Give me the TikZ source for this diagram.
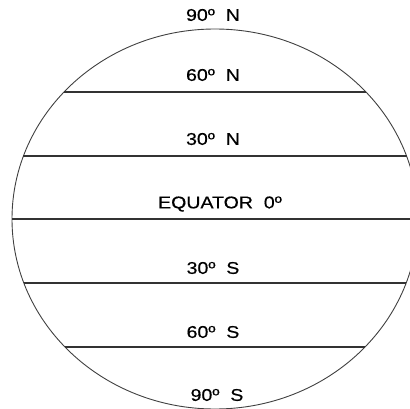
\documentclass[tikz,border=0pt]{standalone}
\usepackage{fontspec}
\setmainfont{Liberation Sans}[FakeStretch=1.15, FakeBold=0.4]
\begin{document}
\begin{tikzpicture}[x=1pt, y=-1pt, lat/.style={font=\fontsize{17}{19}\selectfont, inner sep=0pt}]
\useasboundingbox (0,0) rectangle (410,409);
\clip (0,0) rectangle (410,409);
\draw[line width=0.9pt, black!75] (215,219) ellipse [x radius=203, y radius=190];
\foreach \dy in {-127,-63,0,64,128} {
  \pgfmathsetmacro\hw{203*sqrt(1-(\dy/190)^2)}
  \draw[line width=1.3pt, black!80] (215-\hw,219+\dy) -- (215+\hw,219+\dy);
}
\node[lat] (n90) at (213,15) {90º\ \ N};
\node[lat] (n60) at (213,75) {60º\ \ N};
\node[lat] (n30) at (213,139) {30º\ \ N};
\node[lat] (eq) at (220,204) {EQUATOR\ \ 0º};
\node[lat] (s30) at (213,268) {30º\ \ S};
\node[lat] (s60) at (213,332) {60º\ \ S};
\node[lat] (s90) at (217,395) {90º\ \ S};
\end{tikzpicture}
\end{document}
